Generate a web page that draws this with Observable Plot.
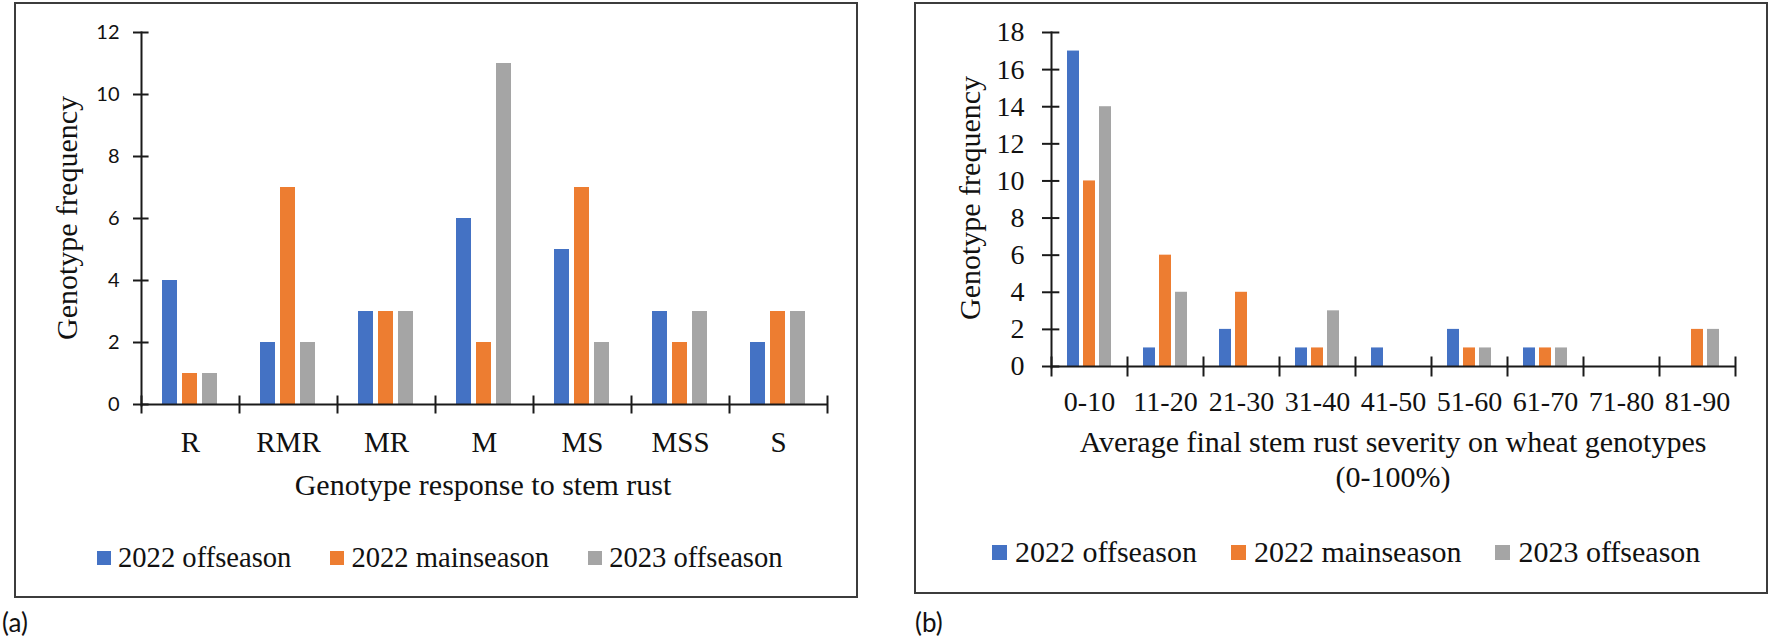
<!DOCTYPE html>
<html><head><meta charset="utf-8">
<script src="https://cdn.jsdelivr.net/npm/d3@7"></script>
<script src="https://cdn.jsdelivr.net/npm/@observablehq/plot@0.6"></script>
<style>
html,body{margin:0;padding:0;background:#fff;}
#root{position:relative;width:1772px;height:640px;overflow:hidden;font-family:"Liberation Serif",serif;color:#111;}
.box{position:absolute;border:2px solid #3c3c3c;box-sizing:border-box;}
.svgwrap{position:absolute;}
.svgwrap svg{overflow:visible;}
.ytitle{position:absolute;transform:translate(-50%,-50%) rotate(-90deg);white-space:nowrap;font-size:30px;line-height:30px;}
.xtitle{position:absolute;transform:translateX(-50%);white-space:nowrap;text-align:center;font-size:30px;}
.legend{position:absolute;display:flex;align-items:center;white-space:nowrap;}
.legend .item{display:flex;align-items:center;}
.legend .sw{display:inline-block;}
.tag{position:absolute;font-family:Lato,"Liberation Sans",sans-serif;font-size:26px;line-height:26px;}
</style></head><body><div id="root"></div>
<script>
// ---- data ----
const seriesNames = ["2022 offseason", "2022 mainseason", "2023 offseason"];
const seriesColors = ["#4472C4", "#ED7D31", "#A5A5A5"];

const catsA = ["R", "RMR", "MR", "M", "MS", "MSS", "S"];
const a2022off  = [4, 2, 3, 6, 5, 3, 2];
const a2022main = [1, 7, 3, 2, 7, 2, 3];
const a2023off  = [1, 2, 3, 11, 2, 3, 3];
const ticksA = [0, 2, 4, 6, 8, 10, 12];

const catsB = ["0-10", "11-20", "21-30", "31-40", "41-50", "51-60", "61-70", "71-80", "81-90"];
const b2022off  = [17, 1, 2, 1, 1, 2, 1, 0, 0];
const b2022main = [10, 6, 4, 1, 0, 1, 1, 0, 2];
const b2023off  = [14, 4, 0, 3, 0, 1, 1, 0, 2];
const ticksB = [0, 2, 4, 6, 8, 10, 12, 14, 16, 18];

const yTitle = "Genotype frequency";
const xTitleA = "Genotype response to stem rust";
const xTitleB = ["Average final stem rust severity on wheat genotypes", "(0-100%)"];

// ---- helpers ----
const root = document.getElementById("root");
function el(tag, cls, css, text) {
  const e = document.createElement(tag);
  if (cls) e.className = cls;
  if (css) Object.assign(e.style, css);
  if (text != null) e.textContent = text;
  root.appendChild(e);
  return e;
}

function makePanel(o) {
  const values = o.values;
  const data = [];
  o.cats.forEach((c, i) => seriesNames.forEach((s, k) => data.push({cat: c, series: s, value: values[k][i]})));
  const plotH = o.height - o.mT - o.mB;
  const bw = (o.width - o.mL - o.mR) / o.cats.length;
  const ink = "#1a1a1a";
  const tl = o.tickLen;
  return Plot.plot({
    width: o.width, height: o.height,
    marginLeft: o.mL, marginRight: o.mR, marginTop: o.mT, marginBottom: o.mB,
    style: {background: "transparent", color: "#111", fontFamily: "Liberation Serif", overflow: "visible"},
    fx: {domain: o.cats, paddingInner: 0, paddingOuter: 0, label: null},
    x: {domain: seriesNames, paddingInner: o.pi, paddingOuter: o.po, axis: null},
    y: {domain: [0, o.yMax], label: null},
    color: {domain: seriesNames, range: seriesColors},
    marks: [
      Plot.barY(data, {fx: "cat", x: "series", y: "value", fill: "series"}),
      Plot.ruleY([0], {stroke: ink, strokeWidth: 2}),
      Plot.frame({anchor: "left", facetAnchor: "left", stroke: ink, strokeWidth: 2, insetBottom: -1}),
      Plot.frame({anchor: "left", insetTop: plotH - tl, insetBottom: -tl, stroke: ink, strokeWidth: 2}),
      Plot.frame({anchor: "right", facetAnchor: "right", insetTop: plotH - tl, insetBottom: -tl, stroke: ink, strokeWidth: 2}),
      Plot.tickY(o.yTicks, {y: d => d, facetAnchor: "left", insetLeft: -tl, insetRight: bw - tl, stroke: ink, strokeWidth: 2}),
      Plot.axisY({ticks: o.yTicks, tickSize: 0, tickPadding: o.yPad, fontFamily: o.yFont, fontSize: o.yFontSize, label: null}),
      Plot.axisFx({anchor: "bottom", tickSize: 0, tickPadding: o.xPad, fontFamily: "Liberation Serif", fontSize: o.xFontSize, label: null})
    ]
  });
}

function legend(left, top, fontSize, lineH, sw, swGap, itemGap) {
  const lg = el("div", "legend", {left: left + "px", top: top + "px", fontSize: fontSize + "px", lineHeight: lineH + "px", gap: itemGap + "px"});
  seriesNames.forEach((s, k) => {
    const it = document.createElement("div");
    it.className = "item";
    const q = document.createElement("span");
    q.className = "sw";
    Object.assign(q.style, {width: sw + "px", height: sw + "px", background: seriesColors[k], marginRight: swGap + "px"});
    const t = document.createElement("span");
    t.textContent = s;
    it.appendChild(q); it.appendChild(t);
    lg.appendChild(it);
  });
}

// ---- panel (a) ----
el("div", "box", {left: "14px", top: "2px", width: "844px", height: "596px"});
const wa = el("div", "svgwrap", {left: "14px", top: "2px"});
wa.appendChild(makePanel({
  cats: catsA, values: [a2022off, a2022main, a2023off],
  width: 844, height: 530, mL: 125, mR: 30, mT: 30, mB: 128,
  yMax: 12, yTicks: ticksA, pi: 0.24, po: 0.96,
  yFont: "Lato", yFontSize: 20, yPad: 22, xFontSize: 29, xPad: 27, tickLen: 8
}));
el("div", "ytitle", {left: "67px", top: "218px"}, yTitle);
el("div", "xtitle", {left: "483px", top: "470px", lineHeight: "30px"}, xTitleA);
legend(97, 543, 28.6, 30, 14, 7, 39);
el("div", "tag", {left: "2px", top: "609px"}, "(a)");

// ---- panel (b) ----
el("div", "box", {left: "914px", top: "2px", width: "854px", height: "592px"});
const wb = el("div", "svgwrap", {left: "914px", top: "2px"});
wb.appendChild(makePanel({
  cats: catsB, values: [b2022off, b2022main, b2023off],
  width: 854, height: 520, mL: 134, mR: 30, mT: 30, mB: 156,
  yMax: 18, yTicks: ticksB, pi: 0.24, po: 0.88,
  yFont: "Liberation Serif", yFontSize: 28, yPad: 27, xFontSize: 28, xPad: 25, tickLen: 9
}));
el("div", "ytitle", {left: "970px", top: "198px"}, yTitle);
const xb = el("div", "xtitle", {left: "1393px", top: "424px", lineHeight: "35px"});
xTitleB.forEach((line, i) => { if (i) xb.appendChild(document.createElement("br")); xb.appendChild(document.createTextNode(line)); });
legend(992, 536, 30, 32, 15, 8, 34);
el("div", "tag", {left: "915px", top: "609px"}, "(b)");
</script>
</body></html>
